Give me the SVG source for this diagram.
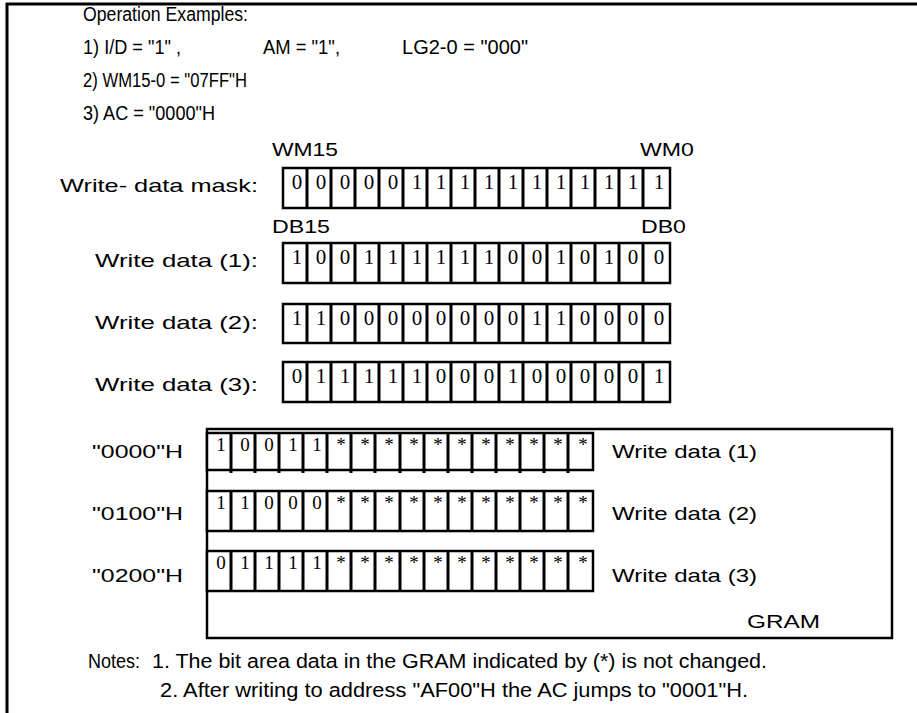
<svg xmlns="http://www.w3.org/2000/svg" xmlns:xlink="http://www.w3.org/1999/xlink" width="917" height="713" viewBox="0 0 917 713">
<style>
.t{font-family:"Liberation Sans",Arial,sans-serif;font-size:20px;fill:#000}
.w{font-family:"Liberation Sans",Arial,sans-serif;font-size:18.5px;fill:#000}
.d{font-family:"Liberation Serif","Times New Roman",serif;font-size:21px;fill:#000;text-anchor:middle}
.g{font-family:"Liberation Serif","Times New Roman",serif;font-size:19px;fill:#000;text-anchor:middle}
.box{fill:#fff;stroke:#000;stroke-width:2.5}
.div{fill:none;stroke:#000;stroke-width:3}
.frame{fill:none;stroke:#000;stroke-width:3}
</style>
<defs>
<path id="div16" class="div" d="M307 0V40M331 0V40M355 0V40M379 0V40M403 0V40M427 0V40M451 0V40M475 0V40M499 0V40M523 0V40M547 0V40M571 0V40M595 0V40M619 0V40M643 0V40"/>
<path id="gdiv" class="div" d="M231 0V40M255 0V40M279 0V40M303 0V40M327 0V40M351 0V40M375 0V40M400 0V40M424 0V40M448 0V40M472 0V40M496 0V40M520 0V40M544 0V40M568 0V40"/>
</defs>
<rect width="917" height="713" fill="#fff"/>
<path class="frame" d="M7 713V4H917"/>
<g id="header">
<text class="t" x="83" y="21" textLength="165" lengthAdjust="spacingAndGlyphs">Operation Examples:</text>
<text class="t" x="83" y="54" textLength="98" lengthAdjust="spacingAndGlyphs">1) I/D = "1" ,</text>
<text class="t" x="263" y="54" textLength="77" lengthAdjust="spacingAndGlyphs">AM = "1",</text>
<text class="t" x="402" y="54" textLength="126" lengthAdjust="spacingAndGlyphs">LG2-0 = "000"</text>
<text class="t" x="83" y="87" textLength="164" lengthAdjust="spacingAndGlyphs">2) WM15-0 = "07FF"H</text>
<text class="t" x="83" y="120" textLength="132" lengthAdjust="spacingAndGlyphs">3) AC = "0000"H</text>
</g>
<g id="mask">
<text class="w" x="272" y="156" textLength="66" lengthAdjust="spacingAndGlyphs">WM15</text>
<text class="w" x="640" y="156" textLength="54" lengthAdjust="spacingAndGlyphs">WM0</text>
<text class="w" x="60" y="192" textLength="198" lengthAdjust="spacingAndGlyphs">Write- data mask:</text>
<rect class="box" x="283" y="168" width="387" height="40"/>
<use xlink:href="#div16" y="168"/>
<text class="d" x="297 321 345 369 393 417 441 465 489 513 537 561 585 609 633 659" y="189">0000011111111111</text>
</g>
<g id="data1">
<text class="w" x="272" y="233" textLength="58" lengthAdjust="spacingAndGlyphs">DB15</text>
<text class="w" x="641" y="233" textLength="45" lengthAdjust="spacingAndGlyphs">DB0</text>
<text class="w" x="95" y="267" textLength="163" lengthAdjust="spacingAndGlyphs">Write data (1):</text>
<rect class="box" x="283" y="243" width="387" height="40"/>
<use xlink:href="#div16" y="243"/>
<text class="d" x="297 321 345 369 393 417 441 465 489 513 537 561 585 609 633 659" y="264">1001111110010100</text>
</g>
<g id="data2">
<text class="w" x="95" y="329" textLength="163" lengthAdjust="spacingAndGlyphs">Write data (2):</text>
<rect class="box" x="283" y="304" width="387" height="39"/>
<use xlink:href="#div16" y="304"/>
<text class="d" x="297 321 345 369 393 417 441 465 489 513 537 561 585 609 633 659" y="325">1100000000110000</text>
</g>
<g id="data3">
<text class="w" x="95" y="391" textLength="163" lengthAdjust="spacingAndGlyphs">Write data (3):</text>
<rect class="box" x="283" y="362" width="387" height="40"/>
<use xlink:href="#div16" y="362"/>
<text class="d" x="297 321 345 369 393 417 441 465 489 513 537 561 585 609 633 659" y="383">0111110001000001</text>
</g>
<g id="gram">
<rect class="box" x="207" y="429" width="685" height="209" stroke-width="2"/>
<text class="w" x="747" y="628" font-size="22" textLength="73" lengthAdjust="spacingAndGlyphs">GRAM</text>
<text class="w" x="612" y="458" textLength="145" lengthAdjust="spacingAndGlyphs">Write data (1)</text>
<text class="w" x="612" y="520" textLength="145" lengthAdjust="spacingAndGlyphs">Write data (2)</text>
<text class="w" x="612" y="582" textLength="145" lengthAdjust="spacingAndGlyphs">Write data (3)</text>
</g>
<g id="row0000">
<text class="w" x="92" y="458" textLength="91" lengthAdjust="spacingAndGlyphs">"0000"H</text>
<rect class="box" x="207" y="433" width="386" height="37"/>
<use xlink:href="#gdiv" y="433"/>
<text class="g" x="221 245 269 293 317 341 365 389 414 438 462 486 510 534 558 583" y="451">10011***********</text>
</g>
<g id="row0100">
<text class="w" x="92" y="520" textLength="91" lengthAdjust="spacingAndGlyphs">"0100"H</text>
<rect class="box" x="207" y="491" width="386" height="40"/>
<use xlink:href="#gdiv" y="491"/>
<text class="g" x="221 245 269 293 317 341 365 389 414 438 462 486 510 534 558 583" y="509">11000***********</text>
</g>
<g id="row0200">
<text class="w" x="92" y="582" textLength="91" lengthAdjust="spacingAndGlyphs">"0200"H</text>
<rect class="box" x="207" y="551" width="386" height="40"/>
<use xlink:href="#gdiv" y="551"/>
<text class="g" x="221 245 269 293 317 341 365 389 414 438 462 486 510 534 558 583" y="569">01111***********</text>
</g>
<g id="notes">
<text class="t" x="88" y="668" textLength="52" lengthAdjust="spacingAndGlyphs">Notes:</text>
<text class="t" x="152" y="668" textLength="615" lengthAdjust="spacingAndGlyphs">1. The bit area data in the GRAM indicated by (*) is not changed.</text>
<text class="t" x="160" y="697" textLength="588" lengthAdjust="spacingAndGlyphs">2. After writing to address "AF00"H the AC jumps to "0001"H.</text>
</g>
<g id="connectors"/>
</svg>
